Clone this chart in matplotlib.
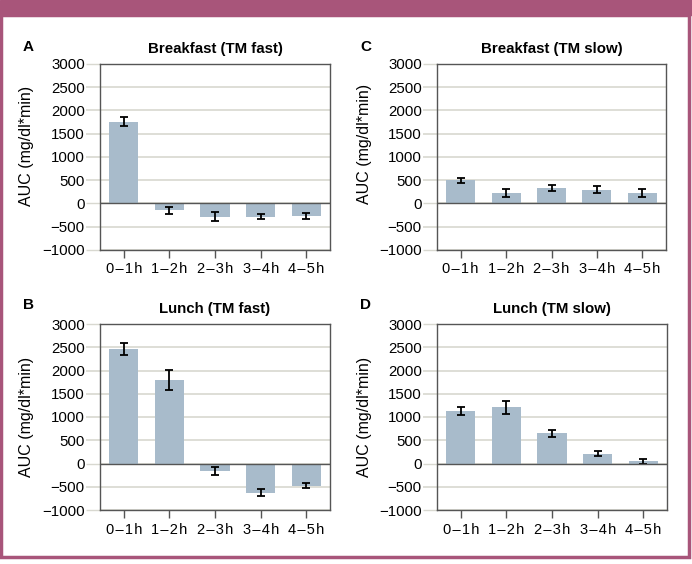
import matplotlib

matplotlib.use('Agg')

import numpy as np
import matplotlib.pyplot as plt
import matplotlib.patches as mpatches

plt.rcParams['font.family'] = ['Liberation Sans', 'DejaVu Sans']

# data
periods = ['0\u20131h', '1\u20132h', '2\u20133h', '3\u20134h', '4\u20135h']

breakfast_fast = [1760, -150, -280, -280, -270]
breakfast_fast_err = [90, 80, 90, 60, 60]

lunch_fast = [2460, 1795, -155, -625, -480]
lunch_fast_err = [130, 225, 85, 70, 50]

breakfast_slow = [495, 225, 335, 300, 225]
breakfast_slow_err = [50, 90, 70, 70, 80]

lunch_slow = [1125, 1210, 650, 215, 50]
lunch_slow_err = [80, 140, 70, 50, 55]

yticks = [-1000, -500, 0, 500, 1000, 1500, 2000, 2500, 3000]

BAR_COL = '#a8bbcb'
GRID_COL = '#d8d8d0'
SPINE_COL = '#555555'
FRAME_COL = '#a8557a'

W, H = 692, 564
fig = plt.figure(figsize=(W / 100, H / 100), dpi=100)


def px_axes(left, right, top, bottom):
    return fig.add_axes([left / W, 1 - bottom / H, (right - left) / W, (bottom - top) / H])


def fmt_y(v):
    # real minus sign on the negatives
    return ('\u2212' if v < 0 else '') + f'{abs(v):d}'


def spaced(s):
    return '\u200a'.join(s)


def draw_panel(ax, vals, errs, title, letter, lx, ly_title, ylab_x, ylab_y):
    x = np.arange(len(periods))
    ax.bar(x, vals, width=0.64, color=BAR_COL, zorder=2)
    ax.errorbar(x, vals, yerr=errs, fmt='none', ecolor='black', elinewidth=1.3,
                capsize=3, capthick=1.3, zorder=3)
    ax.axhline(0, color=SPINE_COL, linewidth=1.0, zorder=4)
    ax.set_xlim(-0.52, 4.52)
    ax.set_ylim(-1000, 3000)
    ax.set_yticks(yticks)
    ax.set_yticklabels([fmt_y(t) for t in yticks], fontsize=10.8)
    ax.set_xticks(x)
    ax.set_xticklabels([spaced(p) for p in periods], fontsize=10.5)
    ax.yaxis.grid(True, color=GRID_COL, linewidth=1.2, zorder=0)
    ax.set_axisbelow(True)
    for sp in ax.spines.values():
        sp.set_color(SPINE_COL)
        sp.set_linewidth(1.0)
    ax.tick_params(axis='y', length=10, width=1.2, color=GRID_COL, pad=1)
    ax.tick_params(axis='x', length=6, width=1.0, color=SPINE_COL, pad=3)
    # dark ticks where the spines / zero line sit
    for t, v in zip(ax.yaxis.get_major_ticks(), yticks):
        if v in (-1000, 0, 3000):
            t.tick1line.set_color(SPINE_COL)
            t.tick1line.set_markeredgewidth(1.0)
    ax.set_title(title, fontsize=10.8, fontweight='bold', pad=8)
    fig.text(lx / W, 1 - ly_title / H, letter, fontsize=11, fontweight='bold',
             ha='left', va='center')
    fig.text(ylab_x / W, 1 - ylab_y / H, 'AUC (mg/dl*min)', fontsize=11.5,
             rotation=90, ha='center', va='center')


axA = px_axes(100, 330, 64, 250)
axC = px_axes(437, 666, 64, 250)
axB = px_axes(100, 330, 324, 510)
axD = px_axes(437, 667, 324, 510)

draw_panel(axA, breakfast_fast, breakfast_fast_err, 'Breakfast (TM fast)', 'A', 23, 47, 27, 146)
draw_panel(axC, breakfast_slow, breakfast_slow_err, 'Breakfast (TM slow)', 'C', 360, 47, 364, 144)
draw_panel(axB, lunch_fast, lunch_fast_err, 'Lunch (TM fast)', 'B', 23, 305, 27, 417)
draw_panel(axD, lunch_slow, lunch_slow_err, 'Lunch (TM slow)', 'D', 360, 305, 364, 417)

# frame: top band + thin border
fig.patches.append(mpatches.Rectangle((0, 1 - 15 / H), 1, 15 / H, transform=fig.transFigure,
                                      color=FRAME_COL, zorder=0))
fig.patches.append(mpatches.Rectangle((1.5 / W, 7 / H), (W - 5) / W, (H - 22) / H,
                                      transform=fig.transFigure, fill=False,
                                      edgecolor=FRAME_COL, linewidth=2.5, zorder=0))

fig.savefig('out.png', dpi=100)
